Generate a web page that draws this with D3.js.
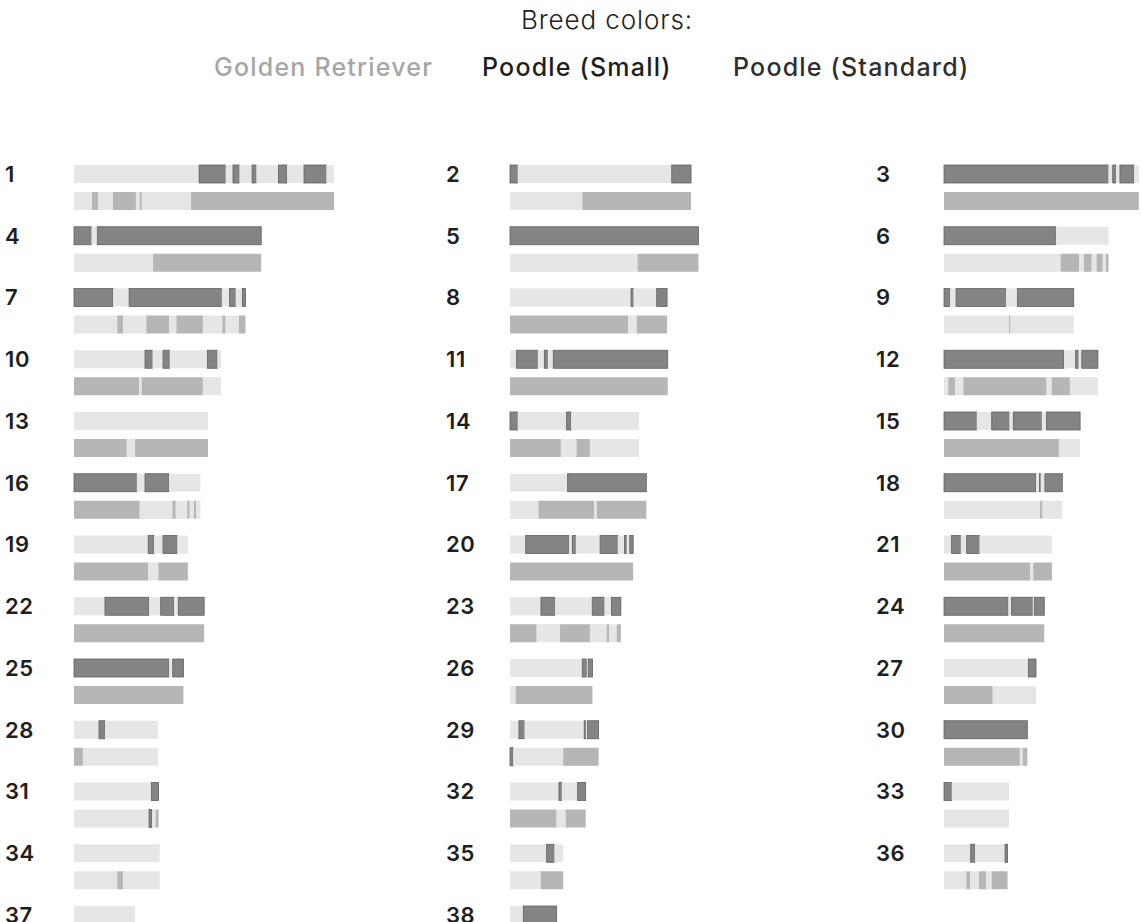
<!DOCTYPE html>
<html>
<head>
<meta charset="utf-8">
<script src="https://cdn.jsdelivr.net/npm/d3@7"></script>
<style>
  body { margin: 0; background: #fff; overflow: hidden; }
  svg { display: block; }
</style>
</head>
<body>
<div id="chart"></div>
<script>
// breeds and their codes used in the haplotype tables
const breedCodes = ["G", "S", "D"];
const breedNames = ["Golden Retriever", "Poodle (Small)", "Poodle (Standard)"];
const breedFill = ["#e6e6e6", "#848484", "#b6b6b6"];
const breedText = ["#a6a6a6", "#1e1e1e", "#2e2e2e"];

const chromosomes = d3.range(1, 39).map(String);

// segments per chromosome: [start Mb, end Mb, breed code]
const hapTop = [
  [[0,59,"G"],[59,71.5,"S"],[71.5,75,"G"],[75,78,"S"],[78,84,"G"],[84,86,"S"],[86,96.5,"G"],[96.5,100.5,"S"],[100.5,108.5,"G"],[108.5,119,"S"],[119,122.7,"G"]],
  [[0,3.6,"S"],[3.6,76.3,"G"],[76.3,85.4,"S"]],
  [[0,77.5,"S"],[77.5,79.6,"G"],[79.6,81.1,"S"],[81.1,83,"G"],[83,89.6,"S"],[89.6,91.9,"G"]],
  [[0,8.2,"S"],[8.2,11,"G"],[11,88.3,"S"]],
  [[0,88.9,"S"]],
  [[0,52.8,"S"],[52.8,77.6,"G"]],
  [[0,18.4,"S"],[18.4,26,"G"],[26,69.7,"S"],[69.7,73.4,"G"],[73.4,76.2,"S"],[76.2,79.4,"G"],[79.4,80.9,"S"]],
  [[0,57.1,"G"],[57.1,58.2,"S"],[58.2,69.2,"G"],[69.2,74.1,"S"]],
  [[0,2.8,"S"],[2.8,5.7,"G"],[5.7,29.2,"S"],[29.2,34.6,"G"],[34.6,61.2,"S"]],
  [[0,33.5,"G"],[33.5,37,"S"],[37,42,"G"],[42,45.1,"S"],[45.1,62.9,"G"],[62.9,67.6,"S"],[67.6,69.3,"G"]],
  [[0,3.1,"G"],[3.1,13.1,"S"],[13.1,16.2,"G"],[16.2,17.8,"S"],[17.8,20.4,"G"],[20.4,74.4,"S"]],
  [[0,56.6,"S"],[56.6,62.1,"G"],[62.1,63.4,"S"],[63.4,65,"G"],[65,72.6,"S"]],
  [[0,63.2,"G"]],
  [[0,3.6,"S"],[3.6,26.7,"G"],[26.7,28.8,"S"],[28.8,60.9,"G"]],
  [[0,15.4,"S"],[15.4,22.5,"G"],[22.5,30.8,"S"],[30.8,32.7,"G"],[32.7,46.1,"S"],[46.1,48.4,"G"],[48.4,64.2,"S"]],
  [[0,29.6,"S"],[29.6,33.5,"G"],[33.5,44.8,"S"],[44.8,59.6,"G"]],
  [[0,27.2,"G"],[27.2,64.3,"S"]],
  [[0,43.4,"S"],[43.4,45,"G"],[45,45.6,"S"],[45.6,47.6,"G"],[47.6,55.8,"S"]],
  [[0,35,"G"],[35,37.7,"S"],[37.7,42,"G"],[42,48.7,"S"],[48.7,53.7,"G"]],
  [[0,7.4,"G"],[7.4,27.8,"S"],[27.8,29.4,"G"],[29.4,31,"S"],[31,42.5,"G"],[42.5,50.8,"S"],[50.8,54,"G"],[54,55,"S"],[55,56.5,"G"],[56.5,58.1,"S"]],
  [[0,3.6,"G"],[3.6,7.9,"S"],[7.9,10.7,"G"],[10.7,16.7,"S"],[16.7,50.9,"G"]],
  [[0,14.6,"G"],[14.6,35.4,"S"],[35.4,40.9,"G"],[40.9,47.2,"S"],[47.2,49.2,"G"],[49.2,61.4,"S"]],
  [[0,14.6,"G"],[14.6,21.2,"S"],[21.2,38.8,"G"],[38.8,44.5,"S"],[44.5,47.9,"G"],[47.9,52.3,"S"]],
  [[0,30.3,"S"],[30.3,31.9,"G"],[31.9,41.8,"S"],[41.8,42.6,"G"],[42.6,47.3,"S"]],
  [[0,44.8,"S"],[44.8,46.6,"G"],[46.6,51.6,"S"]],
  [[0,34.1,"G"],[34.1,36.2,"S"],[36.2,36.9,"G"],[36.9,38.9,"S"]],
  [[0,39.8,"G"],[39.8,43.4,"S"]],
  [[0,11.8,"G"],[11.8,14.6,"S"],[14.6,39.6,"G"]],
  [[0,4.2,"G"],[4.2,6.8,"S"],[6.8,35,"G"],[35,35.8,"S"],[35.8,36.6,"G"],[36.6,41.8,"S"]],
  [[0,39.3,"S"]],
  [[0,36.5,"G"],[36.5,39.9,"S"]],
  [[0,23.1,"G"],[23.1,24.4,"S"],[24.4,31.9,"G"],[31.9,35.7,"S"]],
  [[0,3.6,"S"],[3.6,30.7,"G"]],
  [[0,40.4,"G"]],
  [[0,17.3,"G"],[17.3,20.9,"S"],[20.9,25.1,"G"]],
  [[0,12.6,"G"],[12.6,14.6,"S"],[14.6,28.8,"G"],[28.8,30,"S"]],
  [[0,28.8,"G"]],
  [[0,6.3,"G"],[6.3,22,"S"]]
];

const hapBottom = [
  [[0,8.5,"G"],[8.5,11.3,"D"],[11.3,18.4,"G"],[18.4,29.2,"D"],[29.2,31,"G"],[31,32,"D"],[32,55.2,"G"],[55.2,122.7,"D"]],
  [[0,34.1,"G"],[34.1,85.4,"D"]],
  [[0,91.9,"D"]],
  [[0,37.3,"G"],[37.3,88.3,"D"]],
  [[0,60.2,"G"],[60.2,88.9,"D"]],
  [[0,55,"G"],[55,63.8,"D"],[63.8,66,"G"],[66,69.7,"D"],[69.7,72,"G"],[72,74.9,"D"],[74.9,76.4,"G"],[76.4,77.6,"D"]],
  [[0,20.4,"G"],[20.4,23.1,"D"],[23.1,34.1,"G"],[34.1,44.8,"D"],[44.8,48.3,"G"],[48.3,60.8,"D"],[60.8,70,"G"],[70,71.5,"D"],[71.5,77.8,"G"],[77.8,80.9,"D"]],
  [[0,55.8,"D"],[55.8,59.8,"G"],[59.8,74.1,"D"]],
  [[0,30.7,"G"],[30.7,31.4,"D"],[31.4,61.2,"G"]],
  [[0,30.7,"D"],[30.7,31.9,"G"],[31.9,60.8,"D"],[60.8,69.3,"G"]],
  [[0,74.4,"D"]],
  [[0,2,"G"],[2,5.2,"D"],[5.2,9.1,"G"],[9.1,48.4,"D"],[48.4,50.8,"G"],[50.8,59.4,"D"],[59.4,72.6,"G"]],
  [[0,24.9,"D"],[24.9,28.8,"G"],[28.8,63.2,"D"]],
  [[0,24,"D"],[24,31.4,"G"],[31.4,37.7,"D"],[37.7,60.9,"G"]],
  [[0,54.2,"D"],[54.2,64.2,"G"]],
  [[0,31,"D"],[31,46.4,"G"],[46.4,48,"D"],[48,53.4,"G"],[53.4,54.6,"D"],[54.6,56.6,"G"],[56.6,57.7,"D"],[57.7,59.6,"G"]],
  [[0,13.4,"G"],[13.4,39.8,"D"],[39.8,40.9,"G"],[40.9,64.3,"D"]],
  [[0,45.3,"G"],[45.3,46.5,"D"],[46.5,55.8,"G"]],
  [[0,35.1,"D"],[35.1,39.8,"G"],[39.8,53.7,"D"]],
  [[0,58.1,"D"]],
  [[0,40.6,"D"],[40.6,42.1,"G"],[42.1,50.9,"D"]],
  [[0,61.4,"D"]],
  [[0,12.6,"D"],[12.6,23.6,"G"],[23.6,37.7,"D"],[37.7,45.6,"G"],[45.6,46.7,"D"],[46.7,50.3,"G"],[50.3,52.3,"D"]],
  [[0,47.3,"D"]],
  [[0,51.6,"D"]],
  [[0,2.7,"G"],[2.7,38.9,"D"]],
  [[0,23,"D"],[23,43.4,"G"]],
  [[0,4.2,"D"],[4.2,39.6,"G"]],
  [[0,1.5,"S"],[1.5,25.1,"G"],[25.1,41.8,"D"]],
  [[0,35.8,"D"],[35.8,37.1,"G"],[37.1,39.3,"D"]],
  [[0,35.4,"G"],[35.4,36.8,"S"],[36.8,38.5,"G"],[38.5,39.9,"D"]],
  [[0,22,"D"],[22,26.3,"G"],[26.3,35.7,"D"]],
  [[0,30.7,"G"]],
  [[0,20.4,"G"],[20.4,23.1,"D"],[23.1,40.4,"G"]],
  [[0,14.5,"G"],[14.5,25.1,"D"]],
  [[0,10.5,"G"],[10.5,12.3,"D"],[12.3,16.5,"G"],[16.5,19.8,"D"],[19.8,22.5,"G"],[22.5,30,"D"]],
  [[0,28.8,"G"]],
  [[0,22,"G"]]
];

let width = 1142,
    height = 922,
    columns = 3,
    colX = [74, 510, 944],
    labelX = [5, 446, 876],
    rowTop = 165,
    rowStep = 61.75,
    barH = 18,
    hapGap = 27;

let svg = d3.select("#chart")
    .append("svg")
    .attr("width", width)
    .attr("height", height)
    .style("font-family", "Inter, 'Noto Sans', sans-serif");

// Mb -> px
let x = d3.scaleLinear()
    .domain([0, 100])
    .range([0, 212]);

let color = d3.scaleOrdinal()
    .domain(breedCodes)
    .range(breedFill);

let textColor = d3.scaleOrdinal()
    .domain(breedCodes)
    .range(breedText);

// title + legend
svg.append("text")
    .attr("x", 607)
    .attr("y", 29)
    .attr("text-anchor", "middle")
    .style("font-weight", 300)
    .style("font-size", "26px")
    .style("letter-spacing", "0.9px")
    .attr("fill", "#222")
    .text("Breed colors:");

// legend: first item ends left of the middle one, last starts right of it
let legendX = [433, 482, 733],
    legendAnchor = ["end", "start", "start"];

svg.selectAll("text.legend")
    .data(breedCodes)
    .enter().append("text")
    .attr("class", "legend")
    .attr("x", (d, i) => legendX[i])
    .attr("y", 76)
    .attr("text-anchor", (d, i) => legendAnchor[i])
    .style("font-size", "25px")
    .style("font-weight", 500)
    .style("letter-spacing", "1.2px")
    .attr("fill", d => textColor(d))
    .text((d, i) => breedNames[i]);

// one group per chromosome
let chrom = svg.selectAll("g.chrom")
    .data(chromosomes)
    .enter().append("g")
    .attr("class", "chrom")
    .attr("transform", (d, i) => "translate(0," + (rowTop + Math.floor(i / columns) * rowStep) + ")");

chrom.append("text")
    .attr("x", (d, i) => labelX[i % columns])
    .attr("y", barH / 2)
    .attr("dy", "0.36em")
    .style("font-size", "22px")
    .style("font-weight", 600)
    .style("letter-spacing", "0.6px")
    .attr("fill", "#1e1e1e")
    .text(d => d);

[hapTop, hapBottom].forEach(function (hap, h) {
    chrom.append("g")
        .attr("transform", (d, i) => "translate(" + colX[i % columns] + "," + h * hapGap + ")")
        .selectAll("rect")
        .data((d, i) => hap[i])
        .enter().append("rect")
        .attr("x", d => x(d[0]))
        .attr("y", 0)
        .attr("width", d => x(d[1]) - x(d[0]))
        .attr("height", barH)
        .attr("fill", d => color(d[2]))
        .attr("stroke", d => d[2] == "S" ? "#606060" : "none")
        .attr("stroke-width", 0.8);
});
</script>
</body>
</html>
